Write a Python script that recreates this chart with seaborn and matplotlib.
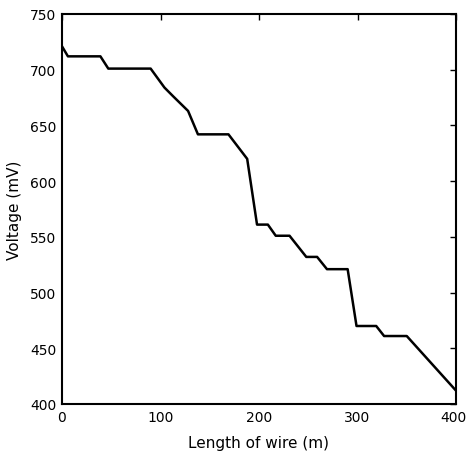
import matplotlib
matplotlib.use("Agg")
import matplotlib.pyplot as plt
import matplotlib.transforms as mtransforms
import seaborn as sns
import pandas as pd

length_m = [0, 6, 39, 47, 90, 104, 113, 128, 138, 169, 188, 198, 209, 217, 231, 248, 259, 269, 290, 299, 319, 327, 350, 400]
voltage_mv = [721, 712, 712, 701, 701, 684, 676, 663, 642, 642, 620, 561, 561, 551, 551, 532, 532, 521, 521, 470, 470, 461, 461, 412]
x_ticks = [0, 100, 200, 300, 400]
y_ticks = [400, 450, 500, 550, 600, 650, 700, 750]

sns.set_theme(style="white")
plt.rcParams['font.family'] = ['DejaVu Sans']

df = pd.DataFrame({"Length of wire (m)": length_m, "Voltage (mV)": voltage_mv})

fig = plt.figure(figsize=(4.67, 4.60), dpi=100)
ax = fig.add_axes([62/467, 1-405/460, (456-62)/467, (405-15)/460])
sns.lineplot(data=df, x="Length of wire (m)", y="Voltage (mV)", ax=ax,
             color="black", linewidth=1.8, sort=False)
ax.set_xlim(0, 400)
ax.set_ylim(400, 750)
ax.set_xticks(x_ticks)
ax.set_yticks(y_ticks)
ax.tick_params(direction="in", length=4, width=1, top=True, right=True,
               labelsize=10, colors="black", pad=4)
for s in ax.spines.values():
    s.set_color("black")
    s.set_linewidth(1.5)
    s.set_visible(True)
ax.set_xlabel("Length of wire (m)", fontsize=11, color="black", labelpad=8)
ax.set_ylabel("Voltage (mV)", fontsize=11, color="black", labelpad=6)

# nudge the last x tick label so it stays inside the figure
last = ax.get_xticklabels()[-1]
last.set_transform(last.get_transform() + mtransforms.ScaledTranslation(-2/72, 0, fig.dpi_scale_trans))

fig.savefig("out.png", dpi=100)
